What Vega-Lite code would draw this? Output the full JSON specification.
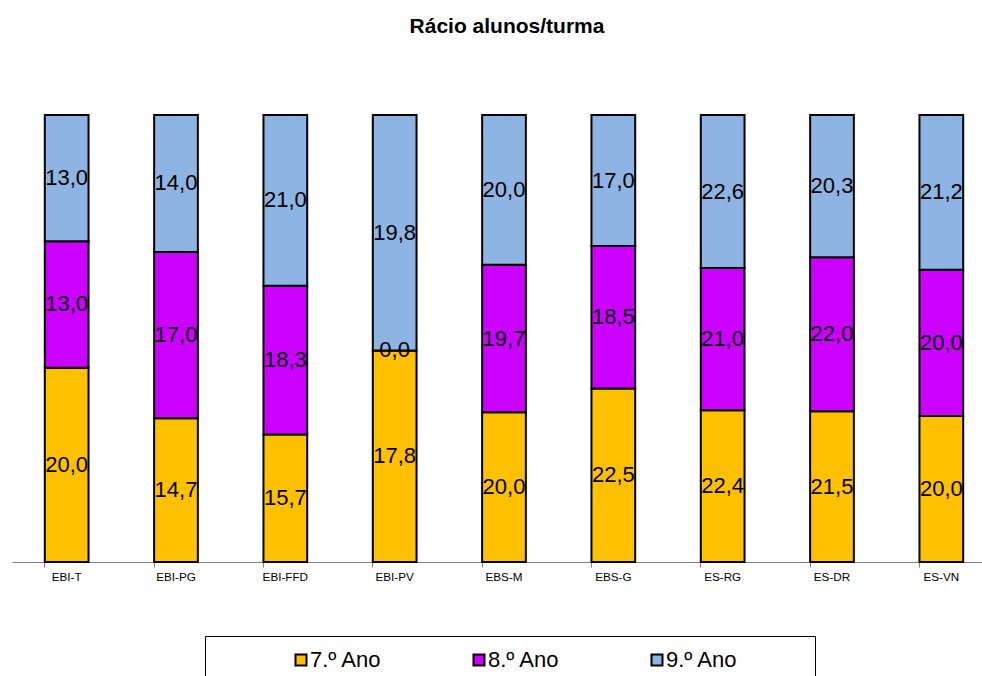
{
  "$schema": "https://vega.github.io/schema/vega-lite/v6.json",
  "autosize": {"type": "none"},
  "width": 970,
  "height": 447,
  "padding": {"left": 12, "top": 115, "right": 0, "bottom": 114},
  "background": "white",
  "title": {"text": "Rácio alunos/turma", "fontSize": 21, "fontWeight": "bold", "font": "Liberation Sans", "offset": 77, "dx": 10, "anchor": "middle", "color": "black"},
  "config": {
    "font": "Liberation Sans",
    "view": {"stroke": null},
    "locale": {"number": {"decimal": ",", "thousands": ".", "grouping": [3], "currency": ["", " €"]}}
  },
  "data": {"values": [
    {"escola": "EBI-T", "ano": "7.º Ano", "valor": 20.0},
    {"escola": "EBI-T", "ano": "8.º Ano", "valor": 13.0},
    {"escola": "EBI-T", "ano": "9.º Ano", "valor": 13.0},
    {"escola": "EBI-PG", "ano": "7.º Ano", "valor": 14.7},
    {"escola": "EBI-PG", "ano": "8.º Ano", "valor": 17.0},
    {"escola": "EBI-PG", "ano": "9.º Ano", "valor": 14.0},
    {"escola": "EBI-FFD", "ano": "7.º Ano", "valor": 15.7},
    {"escola": "EBI-FFD", "ano": "8.º Ano", "valor": 18.3},
    {"escola": "EBI-FFD", "ano": "9.º Ano", "valor": 21.0},
    {"escola": "EBI-PV", "ano": "7.º Ano", "valor": 17.8},
    {"escola": "EBI-PV", "ano": "8.º Ano", "valor": 0.0},
    {"escola": "EBI-PV", "ano": "9.º Ano", "valor": 19.8},
    {"escola": "EBS-M", "ano": "7.º Ano", "valor": 20.0},
    {"escola": "EBS-M", "ano": "8.º Ano", "valor": 19.7},
    {"escola": "EBS-M", "ano": "9.º Ano", "valor": 20.0},
    {"escola": "EBS-G", "ano": "7.º Ano", "valor": 22.5},
    {"escola": "EBS-G", "ano": "8.º Ano", "valor": 18.5},
    {"escola": "EBS-G", "ano": "9.º Ano", "valor": 17.0},
    {"escola": "ES-RG", "ano": "7.º Ano", "valor": 22.4},
    {"escola": "ES-RG", "ano": "8.º Ano", "valor": 21.0},
    {"escola": "ES-RG", "ano": "9.º Ano", "valor": 22.6},
    {"escola": "ES-DR", "ano": "7.º Ano", "valor": 21.5},
    {"escola": "ES-DR", "ano": "8.º Ano", "valor": 22.0},
    {"escola": "ES-DR", "ano": "9.º Ano", "valor": 20.3},
    {"escola": "ES-VN", "ano": "7.º Ano", "valor": 20.0},
    {"escola": "ES-VN", "ano": "8.º Ano", "valor": 20.0},
    {"escola": "ES-VN", "ano": "9.º Ano", "valor": 21.2}
  ]},
  "encoding": {
    "x": {
      "field": "escola", "type": "nominal", "sort": null,
      "scale": {"range": [0, 984], "paddingInner": 0.6, "paddingOuter": 0.3},
      "axis": {"title": null, "labelAngle": 0, "bandPosition": 0, "domainColor": "#808080", "tickColor": "#808080", "tickSize": 5, "labelColor": "black", "labelFontSize": 11.7, "labelPadding": 4, "labelFont": "Liberation Sans"}
    },
    "y": {"field": "valor", "type": "quantitative", "stack": "normalize", "axis": null},
    "order": {"field": "ano", "sort": "ascending"}
  },
  "layer": [
    {
      "mark": {"type": "bar", "stroke": "black", "strokeWidth": 2},
      "encoding": {
        "color": {
          "field": "ano", "type": "nominal",
          "scale": {"domain": ["7.º Ano", "8.º Ano", "9.º Ano"], "range": ["#FFC000", "#CC00FF", "#8EB4E3"]},
          "legend": {
            "orient": "none", "legendX": 193, "legendY": 521, "direction": "horizontal",
            "title": " ", "titleOrient": "left", "titleFontSize": 10, "titlePadding": 72,
            "padding": 13, "strokeColor": "black", "fillColor": "white",
            "symbolType": "square", "symbolSize": 121, "symbolStrokeColor": "black", "symbolStrokeWidth": 2,
            "labelFontSize": 22, "labelColor": "black", "labelFont": "Liberation Sans", "labelOffset": -2, "labelLimit": 0,
            "columnPadding": 86,
            "labelExpr": "datum.label == '9.º Ano' ? datum.label + '\u2800\u2800\u2800\u2800' : datum.label"
          }
        }
      }
    },
    {
      "mark": {"type": "text", "fontSize": 22, "color": "black", "baseline": "middle", "font": "Liberation Sans"},
      "encoding": {
        "y": {"field": "valor", "type": "quantitative", "stack": "normalize", "bandPosition": 0.5},
        "detail": {"field": "ano"},
        "text": {"field": "valor", "type": "quantitative", "format": ".1f"}
      }
    }
  ]
}
